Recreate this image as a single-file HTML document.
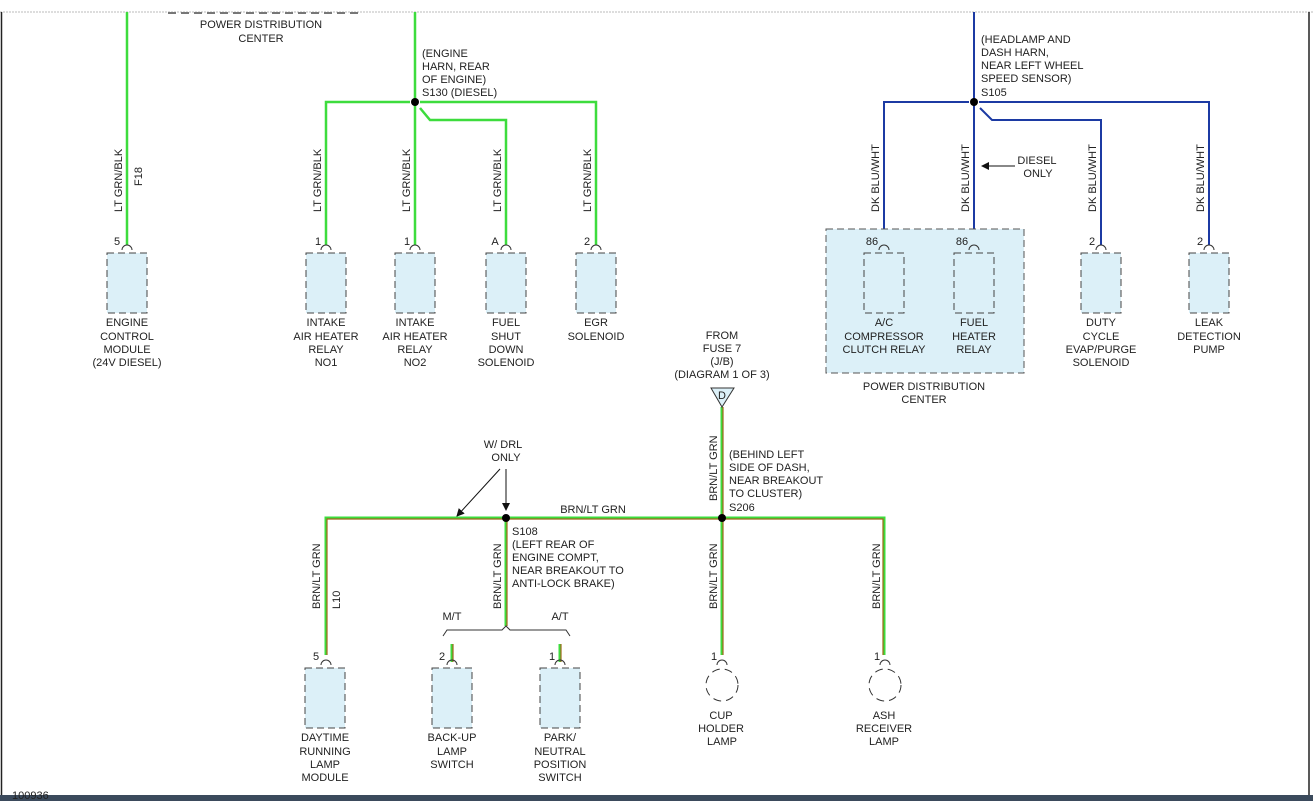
<!DOCTYPE html>
<html><head><meta charset="utf-8"><style>
html,body{margin:0;padding:0;background:#fff;}
svg{display:block;}
text{font-family:"Liberation Sans",sans-serif;font-size:11px;fill:#222;}
</style></head><body>
<svg width="1313" height="801" viewBox="0 0 1313 801" xmlns="http://www.w3.org/2000/svg">
<defs>
<marker id="ar" markerWidth="8" markerHeight="8" refX="7" refY="4" orient="auto" markerUnits="userSpaceOnUse"><path d="M0,0 L8,4 L0,8 z" fill="#111"/></marker>
</defs>
<!-- frame -->
<line x1="0" y1="12" x2="1313" y2="12" stroke="#bbb" stroke-dasharray="2 1"/>
<line x1="1.5" y1="12" x2="1.5" y2="795" stroke="#222" stroke-width="1.5"/>
<line x1="1309" y1="12" x2="1309" y2="795" stroke="#222" stroke-width="1.5"/>
<rect x="0" y="795" width="1313" height="6" fill="#3b4a5c"/>
<line x1="168" y1="13" x2="363" y2="13" stroke="#777" stroke-width="2" stroke-dasharray="8 5"/>
<text x="261" y="28" text-anchor="middle">POWER DISTRIBUTION</text>
<text x="261" y="42" text-anchor="middle">CENTER</text>
<text x="12" y="799" font-size="10">100936</text>

<!-- green wires -->
<g stroke="#3ddc3d" stroke-width="2.5" fill="none">
<path d="M127 12 V245"/>
<path d="M415 12 V245"/>
<path d="M410 102 H326 V245"/>
<path d="M420 102 H596 V245"/>
<path d="M420 108 L430 120 H506 V245"/>
</g>
<!-- blue wires -->
<g stroke="#1c3aa3" stroke-width="2" fill="none">
<path d="M974 12 V245"/>
<path d="M969 102 H884 V245"/>
<path d="M979 102 H1209 V245"/>
<path d="M980 108 L992 120 H1101 V245"/>
</g>
<!-- brown/green wires -->
<g fill="none">
<g stroke="#3ddc3d" stroke-width="3">
<path d="M722 407 V655"/>
<path d="M326 655 V518 H884 V655"/>
<path d="M506 518 V626"/>
<path d="M452 644 V662"/><path d="M560 644 V662"/>
</g>
<g stroke="#a0661a" stroke-width="1.2">
<path d="M723 407 V655"/>
<path d="M327 655 V519 H883 V655"/>
<path d="M507 518 V626"/>
<path d="M453 644 V662"/><path d="M561 644 V662"/>
</g>
</g>
<!-- bracket -->
<path d="M443 636 L447 630 H502 L506 626 L510 630 H566 L570 636" stroke="#333" fill="none"/>
<!-- splice dots -->
<g fill="#000"><circle cx="415" cy="102" r="4"/><circle cx="974" cy="102" r="4"/><circle cx="506" cy="518" r="4"/><circle cx="722" cy="518" r="4"/></g>

<!-- PDC box -->
<rect x="826" y="229" width="198" height="144" fill="#dcf0f8" stroke="#555" stroke-dasharray="7 4"/>
<!-- component boxes -->
<g fill="#dcf0f8" stroke="#444" stroke-dasharray="7 4">
<rect x="107" y="253" width="40" height="60"/>
<rect x="306" y="253" width="40" height="60"/>
<rect x="395" y="253" width="40" height="60"/>
<rect x="486" y="253" width="40" height="60"/>
<rect x="576" y="253" width="40" height="60"/>
<rect x="864" y="253" width="40" height="60"/>
<rect x="954" y="253" width="40" height="60"/>
<rect x="1081" y="253" width="40" height="60"/>
<rect x="1189" y="253" width="40" height="60"/>
<rect x="305" y="668" width="40" height="60"/>
<rect x="432" y="668" width="40" height="60"/>
<rect x="540" y="668" width="40" height="60"/>
</g>
<g fill="none" stroke="#333" stroke-dasharray="8 5">
<circle cx="722" cy="685" r="16"/><circle cx="885" cy="685" r="16"/>
</g>
<!-- hooks -->
<g fill="none" stroke="#333" stroke-width="1">
<path d="M122 250 A5 5 0 0 1 132 250"/>
<path d="M321 250 A5 5 0 0 1 331 250"/>
<path d="M410 250 A5 5 0 0 1 420 250"/>
<path d="M501 250 A5 5 0 0 1 511 250"/>
<path d="M591 250 A5 5 0 0 1 601 250"/>
<path d="M879 250 A5 5 0 0 1 889 250"/>
<path d="M969 250 A5 5 0 0 1 979 250"/>
<path d="M1096 250 A5 5 0 0 1 1106 250"/>
<path d="M1204 250 A5 5 0 0 1 1214 250"/>
<path d="M321 665 A5 5 0 0 1 331 665"/>
<path d="M447 665 A5 5 0 0 1 457 665"/>
<path d="M555 665 A5 5 0 0 1 565 665"/>
<path d="M717 665 A5 5 0 0 1 727 665"/>
<path d="M880 665 A5 5 0 0 1 890 665"/>
</g>
<!-- D triangle -->
<path d="M711 388 H734 L722 407 Z" fill="#dcf0f8" stroke="#333"/>
<text x="722" y="399" text-anchor="middle" font-size="10">D</text>
<!-- arrows -->
<g stroke="#111" stroke-width="1">
<line x1="1015" y1="166" x2="982" y2="166" marker-end="url(#ar)"/>
<line x1="500" y1="469" x2="457" y2="516" marker-end="url(#ar)"/>
<line x1="506" y1="469" x2="506" y2="510" marker-end="url(#ar)"/>
</g>

<!-- pin numbers -->
<g text-anchor="middle">
<text x="117" y="245">5</text><text x="318" y="245">1</text><text x="407" y="245">1</text><text x="495" y="245">A</text><text x="587" y="245">2</text>
<text x="872" y="245">86</text><text x="962" y="245">86</text><text x="1092" y="245">2</text><text x="1200" y="245">2</text>
<text x="316" y="660">5</text><text x="442" y="660">2</text><text x="552" y="660">1</text><text x="714" y="660">1</text><text x="877" y="660">1</text>
</g>

<!-- vertical wire labels -->
<g>
<text transform="translate(122,212) rotate(-90)">LT GRN/BLK</text>
<text transform="translate(142,186) rotate(-90)">F18</text>
<text transform="translate(321,212) rotate(-90)">LT GRN/BLK</text>
<text transform="translate(410,212) rotate(-90)">LT GRN/BLK</text>
<text transform="translate(501,212) rotate(-90)">LT GRN/BLK</text>
<text transform="translate(591,212) rotate(-90)">LT GRN/BLK</text>
<text transform="translate(879,212) rotate(-90)">DK BLU/WHT</text>
<text transform="translate(969,212) rotate(-90)">DK BLU/WHT</text>
<text transform="translate(1096,212) rotate(-90)">DK BLU/WHT</text>
<text transform="translate(1204,212) rotate(-90)">DK BLU/WHT</text>
<text transform="translate(717,501) rotate(-90)">BRN/LT GRN</text>
<text transform="translate(320,609) rotate(-90)">BRN/LT GRN</text>
<text transform="translate(340,609) rotate(-90)">L10</text>
<text transform="translate(501,609) rotate(-90)">BRN/LT GRN</text>
<text transform="translate(717,609) rotate(-90)">BRN/LT GRN</text>
<text transform="translate(880,609) rotate(-90)">BRN/LT GRN</text>
</g>

<!-- annotations -->
<text x="422" y="57">(ENGINE</text><text x="422" y="70">HARN, REAR</text><text x="422" y="83">OF ENGINE)</text><text x="422" y="96">S130 (DIESEL)</text>
<text x="981" y="43">(HEADLAMP AND</text><text x="981" y="56">DASH HARN,</text><text x="981" y="69">NEAR LEFT WHEEL</text><text x="981" y="82">SPEED SENSOR)</text><text x="981" y="96">S105</text>
<text x="1037" y="164" text-anchor="middle">DIESEL</text><text x="1038" y="177" text-anchor="middle">ONLY</text>
<g text-anchor="middle">
<text x="722" y="339">FROM</text><text x="722" y="352">FUSE 7</text><text x="722" y="365">(J/B)</text><text x="722" y="378">(DIAGRAM 1 OF 3)</text>
<text x="503" y="448">W/ DRL</text><text x="506" y="461">ONLY</text>
<text x="593" y="513">BRN/LT GRN</text>
<text x="452" y="620">M/T</text><text x="560" y="620">A/T</text>
</g>
<text x="729" y="458">(BEHIND LEFT</text><text x="729" y="471">SIDE OF DASH,</text><text x="729" y="484">NEAR BREAKOUT</text><text x="729" y="497">TO CLUSTER)</text><text x="729" y="511">S206</text>
<text x="512" y="535">S108</text><text x="512" y="548">(LEFT REAR OF</text><text x="512" y="561">ENGINE COMPT,</text><text x="512" y="574">NEAR BREAKOUT TO</text><text x="512" y="587">ANTI-LOCK BRAKE)</text>

<!-- component labels -->
<g text-anchor="middle">
<text x="127" y="326">ENGINE</text><text x="127" y="340">CONTROL</text><text x="127" y="353">MODULE</text><text x="127" y="366">(24V DIESEL)</text>
<text x="326" y="326">INTAKE</text><text x="326" y="340">AIR HEATER</text><text x="326" y="353">RELAY</text><text x="326" y="366">NO1</text>
<text x="415" y="326">INTAKE</text><text x="415" y="340">AIR HEATER</text><text x="415" y="353">RELAY</text><text x="415" y="366">NO2</text>
<text x="506" y="326">FUEL</text><text x="506" y="340">SHUT</text><text x="506" y="353">DOWN</text><text x="506" y="366">SOLENOID</text>
<text x="596" y="326">EGR</text><text x="596" y="340">SOLENOID</text>
<text x="884" y="326">A/C</text><text x="884" y="340">COMPRESSOR</text><text x="884" y="353">CLUTCH RELAY</text>
<text x="974" y="326">FUEL</text><text x="974" y="340">HEATER</text><text x="974" y="353">RELAY</text>
<text x="1101" y="326">DUTY</text><text x="1101" y="340">CYCLE</text><text x="1101" y="353">EVAP/PURGE</text><text x="1101" y="366">SOLENOID</text>
<text x="1209" y="326">LEAK</text><text x="1209" y="340">DETECTION</text><text x="1209" y="353">PUMP</text>
<text x="924" y="390">POWER DISTRIBUTION</text><text x="924" y="403">CENTER</text>
<text x="325" y="741">DAYTIME</text><text x="325" y="755">RUNNING</text><text x="325" y="768">LAMP</text><text x="325" y="781">MODULE</text>
<text x="452" y="741">BACK-UP</text><text x="452" y="755">LAMP</text><text x="452" y="768">SWITCH</text>
<text x="560" y="741">PARK/</text><text x="560" y="755">NEUTRAL</text><text x="560" y="768">POSITION</text><text x="560" y="781">SWITCH</text>
<text x="721" y="719">CUP</text><text x="721" y="732">HOLDER</text><text x="722" y="745">LAMP</text>
<text x="884" y="719">ASH</text><text x="884" y="732">RECEIVER</text><text x="884" y="745">LAMP</text>
</g>
</svg>
</body></html>
